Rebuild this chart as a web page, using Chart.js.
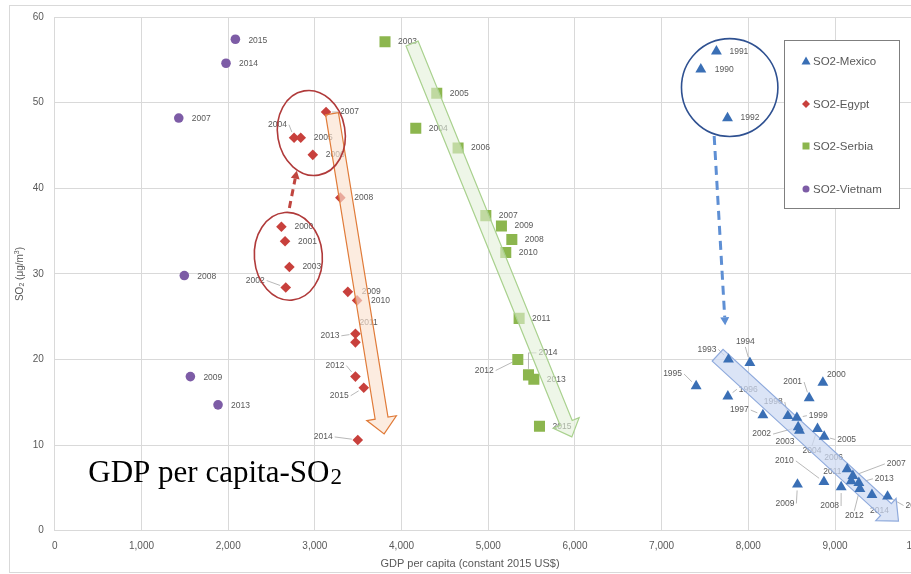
<!DOCTYPE html>
<html>
<head>
<meta charset="utf-8">
<script src="https://cdn.jsdelivr.net/npm/chart.js@4.4.1/dist/chart.umd.min.js"></script>
<style>
  html, body { margin: 0; padding: 0; background: #ffffff; overflow: hidden; }
  #wrap { width: 947px; height: 574px; }
</style>
</head>
<body>
<div id="wrap"><canvas id="c" width="947" height="574"></canvas></div>
<script>
// ---- SO2 concentration vs GDP per capita, by country and year ----
const mexicoYears = [1990,1991,1992,1993,1994,1995,1996,1997,1998,1999,2000,2001,2002,2003,2004,2005,2006,2007,2008,2009,2010,2011,2012,2013,2014,2015];
const mexicoGdp   = [7452,7632,7760,7771,8018,7398,7764,8168,8456,8560,8860,8702,8575,8590,8798,8875,9140,9206,9071,8567,8872,9187,9287,9275,9426,9606];
const mexicoSo2   = [53.9,56.0,48.2,20.0,19.6,16.9,15.7,13.5,13.4,13.2,17.3,15.5,12.1,11.7,11.9,11.0,7.2,6.4,5.1,5.4,5.7,5.8,4.9,5.6,4.2,4.0];

const egyptYears = [2000,2001,2002,2003,2004,2005,2006,2007,2008,2009,2010,2011,2012,2013,2014,2015];
const egyptGdp   = [2614,2656,2664,2706,2760,2837,2976,3129,3294,3380,3487,3468,3468,3468,3495,3564];
const egyptSo2   = [35.5,33.8,28.4,30.8,45.9,45.9,43.9,48.9,38.9,27.9,26.9,22.0,18.0,23.0,10.6,16.7];

const serbiaYears = [2003,2004,2005,2006,2007,2008,2009,2010,2011,2012,2013,2014,2015];
const serbiaGdp   = [3809,4164,4406,4652,4972,5272,5152,5202,5356,5341,5526,5464,5591];
const serbiaSo2   = [57.1,47.0,51.1,44.7,36.8,34.0,35.6,32.5,24.8,20.0,17.7,18.2,12.2];

const vietnamYears = [2007,2008,2009,2013,2014,2015];
const vietnamGdp   = [1430,1494,1564,1883,1975,2083];
const vietnamSo2   = [48.2,29.8,18.0,14.7,54.6,57.4];

const seriesNames = ['SO2-Mexico','SO2-Egypt','SO2-Serbia','SO2-Vietnam'];
const xTicks = [0,1000,2000,3000,4000,5000,6000,7000,8000,9000,10000];
const yTicks = [0,10,20,30,40,50,60];

// year-label placement: [dx, dy, leader line] in pixels from the marker
const mexicoLabelPos = [[14,0],[13,0],[13,0],[-31,-10,1],[-14,-21,1],[-33,-12,1],[11,-7,1],[-33,-5,1],[-24,-14,1],[12,-2,1],
  [4,-8],[-26,-16,1],[-46,7,1],[-24,11],[-15,22,1],[13,3,1],[-23,-11],[34,-12,1],[-21,19,1],[-22,19,1],[-49,-21,1],[-28,-9],[-15,27,1],[16,-4,1],[-2,16],[18,9,1]];
const egyptLabelPos = [[13,0],[13,0],[-40,-7,1],[13,0],[-26,-13,1],[13,0],[13,0],[14,0,1],[14,0],[14,0],[14,0],[4,-20],[-30,-11,1],[-35,2,1],[-44,-3,1],[-34,8,1]];
const serbiaLabelPos = [[13,0],[13,0],[13,0],[13,0],[13,0],[13,0],[13,0],[13,0],[13,0],[-43,11,1],[13,0],[10,-22,2],[13,0]];
const vietnamLabelPos = [[13,1],[13,1],[13,1],[13,1],[13,0],[13,1]];

// trend arrows (data coordinates): from, to; "under" ones sit beneath the markers
const trendArrows = [
  { from: [3198, 48.7], to: [3799, 11.3], shaft: 13, head: 30, headLen: 16, fill: 'rgba(251,226,208,0.65)', stroke: '#E07B39', under: false },
  { from: [4121, 56.9], to: [5964, 10.96], shaft: 13, head: 28, headLen: 15, fill: 'rgba(226,240,217,0.6)', stroke: '#A9D18E', under: false },
  { from: [7646, 20.5], to: [9732, 1.13], shaft: 16, head: 30, headLen: 17, fill: 'rgba(205,218,243,0.72)', stroke: '#8FAADC', under: true }
];
// grouping ellipses (data coordinates): centre, radii
const groupEllipses = [
  { c: [2959, 46.45], r: [389, 4.99], rot: -0.17, color: '#B03A3A' },
  { c: [2694, 32.05], r: [392, 5.13], rot: -0.08, color: '#B03A3A' },
  { c: [7785, 51.76], r: [556, 5.71], rot: 0, color: '#2F5191' }
];
// dashed jump arrows (data coordinates)
const jumpArrows = [
  { from: [2706, 37.7], to: [2791, 42.05], color: '#C0453F', dash: [7, 5] },
  { from: [7606, 46.1], to: [7733, 24.0], color: '#5E8FD4', dash: [9, 6] }
];

const colors = ['#3A6FB5', '#C8403C', '#8CB64E', '#7D5CA6'];
const LABEL_FONT = "8.5px 'Liberation Sans', Arial, sans-serif";
const labelSets = [
  { years: mexicoYears, pos: mexicoLabelPos },
  { years: egyptYears, pos: egyptLabelPos },
  { years: serbiaYears, pos: serbiaLabelPos },
  { years: vietnamYears, pos: vietnamLabelPos }
];

function toPoints(xs, ys) { return xs.map((x, i) => ({ x: x, y: ys[i] })); }

function drawArrow(ctx, a, px, py) {
  const x0 = px(a.from[0]), y0 = py(a.from[1]);
  const x1 = px(a.to[0]), y1 = py(a.to[1]);
  const L = Math.hypot(x1 - x0, y1 - y0);
  const ux = (x1 - x0) / L, uy = (y1 - y0) / L;
  const nx = -uy, ny = ux;
  const bx = x1 - ux * a.headLen, by = y1 - uy * a.headLen;
  const s = a.shaft / 2, h = a.head / 2;
  ctx.save();
  ctx.beginPath();
  ctx.moveTo(x0 + nx * s, y0 + ny * s);
  ctx.lineTo(bx + nx * s, by + ny * s);
  ctx.lineTo(bx + nx * h, by + ny * h);
  ctx.lineTo(x1, y1);
  ctx.lineTo(bx - nx * h, by - ny * h);
  ctx.lineTo(bx - nx * s, by - ny * s);
  ctx.lineTo(x0 - nx * s, y0 - ny * s);
  ctx.closePath();
  ctx.fillStyle = a.fill;
  ctx.fill();
  ctx.strokeStyle = a.stroke;
  ctx.lineWidth = 1.2;
  ctx.stroke();
  ctx.restore();
}

const overlay = {
  id: 'overlay',
  beforeDraw(chart) {
    const ctx = chart.ctx;
    ctx.save();
    ctx.strokeStyle = '#d9d9d9';
    ctx.lineWidth = 1;
    ctx.strokeRect(9.5, 5.5, 1000, 567);
    ctx.restore();
  },
  beforeDatasetsDraw(chart) {
    const ctx = chart.ctx;
    const xs = chart.scales.x, ys = chart.scales.y;
    const px = v => xs.getPixelForValue(v);
    const py = v => ys.getPixelForValue(v);

    // year labels with leader lines
    ctx.save();
    ctx.font = LABEL_FONT;
    ctx.textBaseline = 'middle';
    ctx.textAlign = 'left';
    labelSets.forEach((set, di) => {
      const meta = chart.getDatasetMeta(di);
      meta.data.forEach((el, i) => {
        const p = set.pos[i];
        const txt = String(set.years[i]);
        const w = ctx.measureText(txt).width;
        const lx = el.x + p[0], ly = el.y + p[1];
        if (p[2]) {
          let ex, ey;
          ctx.strokeStyle = '#a6a6a6'; ctx.lineWidth = 0.8;
          if (p[2] === 2) {
            ctx.beginPath();
            ctx.moveTo(el.x, el.y - 6); ctx.lineTo(el.x, ly); ctx.lineTo(lx - 2, ly);
            ctx.stroke();
          } else {
            if (lx + w < el.x - 2) { ex = lx + w + 2; ey = ly; }
            else if (lx > el.x + 2) { ex = lx - 2; ey = ly; }
            else { ex = lx + w / 2; ey = ly < el.y ? ly + 5 : ly - 5; }
            const dx = ex - el.x, dy = ey - el.y, d = Math.hypot(dx, dy);
            if (d > 9) {
              ctx.beginPath();
              ctx.moveTo(el.x + dx / d * 6, el.y + dy / d * 6);
              ctx.lineTo(ex, ey);
              ctx.stroke();
            }
          }
        }
        ctx.fillStyle = '#595959';
        ctx.fillText(txt, lx, ly);
      });
    });
    ctx.restore();

    trendArrows.filter(a => a.under).forEach(a => drawArrow(ctx, a, px, py));
  },
  afterDatasetsDraw(chart) {
    const ctx = chart.ctx;
    const xs = chart.scales.x, ys = chart.scales.y;
    const px = v => xs.getPixelForValue(v);
    const py = v => ys.getPixelForValue(v);

    trendArrows.filter(a => !a.under).forEach(a => drawArrow(ctx, a, px, py));

    // ellipses
    groupEllipses.forEach(e => {
      const cx = px(e.c[0]), cy = py(e.c[1]);
      const rx = Math.abs(px(e.c[0] + e.r[0]) - cx);
      const ry = Math.abs(py(e.c[1] + e.r[1]) - cy);
      ctx.save();
      ctx.beginPath();
      ctx.ellipse(cx, cy, rx, ry, e.rot, 0, Math.PI * 2);
      ctx.strokeStyle = e.color;
      ctx.lineWidth = 1.6;
      ctx.stroke();
      ctx.restore();
    });

    // dashed jump arrows
    jumpArrows.forEach(a => {
      const x0 = px(a.from[0]), y0 = py(a.from[1]);
      const x1 = px(a.to[0]), y1 = py(a.to[1]);
      const L = Math.hypot(x1 - x0, y1 - y0);
      const ux = (x1 - x0) / L, uy = (y1 - y0) / L;
      const nx = -uy, ny = ux;
      const hl = 8, hw = 4.5;
      ctx.save();
      ctx.strokeStyle = a.color;
      ctx.lineWidth = 3;
      ctx.setLineDash(a.dash);
      ctx.beginPath();
      ctx.moveTo(x0, y0);
      ctx.lineTo(x1 - ux * hl, y1 - uy * hl);
      ctx.stroke();
      ctx.setLineDash([]);
      ctx.fillStyle = a.color;
      ctx.beginPath();
      ctx.moveTo(x1, y1);
      ctx.lineTo(x1 - ux * hl + nx * hw, y1 - uy * hl + ny * hw);
      ctx.lineTo(x1 - ux * hl - nx * hw, y1 - uy * hl - ny * hw);
      ctx.closePath();
      ctx.fill();
      ctx.restore();
    });

    // caption inside the plot
    ctx.save();
    ctx.fillStyle = '#000000';
    ctx.textBaseline = 'alphabetic';
    ctx.textAlign = 'left';
    ctx.font = "31px 'Liberation Serif', 'Times New Roman', serif";
    const capX = px(387), capY = py(5.71);
    const main = 'GDP per capita-SO';
    ctx.fillText(main, capX, capY);
    const mw = ctx.measureText(main).width;
    ctx.font = "23px 'Liberation Serif', 'Times New Roman', serif";
    ctx.fillText('2', capX + mw + 1, capY + 2);
    ctx.restore();

    // legend box
    ctx.save();
    ctx.strokeStyle = '#7f7f7f';
    ctx.lineWidth = 1;
    ctx.fillStyle = '#ffffff';
    ctx.fillRect(784.5, 40.5, 115, 168);
    ctx.strokeRect(784.5, 40.5, 115, 168);
    const rows = [61, 104, 146, 189];
    ctx.font = "11.5px 'Liberation Sans', Arial, sans-serif";
    ctx.textBaseline = 'middle';
    rows.forEach((ry, i) => {
      const mx = 806, my = ry;
      ctx.fillStyle = colors[i];
      ctx.beginPath();
      if (i === 0) { ctx.moveTo(mx, my - 4.5); ctx.lineTo(mx + 4.5, my + 3.5); ctx.lineTo(mx - 4.5, my + 3.5); ctx.closePath(); }
      else if (i === 1) { ctx.moveTo(mx, my - 4); ctx.lineTo(mx + 4, my); ctx.lineTo(mx, my + 4); ctx.lineTo(mx - 4, my); ctx.closePath(); }
      else if (i === 2) { ctx.rect(mx - 3.5, my - 3.5, 7, 7); }
      else { ctx.arc(mx, my, 3.5, 0, Math.PI * 2); }
      ctx.fill();
      ctx.fillStyle = '#595959';
      ctx.fillText(seriesNames[i], 813, ry + 0.5);
    });
    ctx.restore();

    // axis titles
    ctx.save();
    ctx.fillStyle = '#595959';
    ctx.font = "11px 'Liberation Sans', Arial, sans-serif";
    ctx.textAlign = 'center';
    ctx.textBaseline = 'middle';
    ctx.fillText('GDP per capita (constant 2015 US$)', 470, 564);
    ctx.translate(20, 274);
    ctx.rotate(-Math.PI / 2);
    const parts = [['SO', 10, 0], ['2', 7, 2.5], [' (μg/m', 10, 0], ['3', 7, -3], [')', 10, 0]];
    let tw = 0;
    parts.forEach(p => { ctx.font = p[1] + "px 'Liberation Sans', Arial, sans-serif"; tw += ctx.measureText(p[0]).width; });
    let cx = -tw / 2;
    ctx.textAlign = 'left';
    parts.forEach(p => {
      ctx.font = p[1] + "px 'Liberation Sans', Arial, sans-serif";
      ctx.fillText(p[0], cx, p[2]);
      cx += ctx.measureText(p[0]).width;
    });
    ctx.restore();
  }
};

new Chart(document.getElementById('c'), {
  type: 'scatter',
  data: {
    datasets: [
      { label: seriesNames[0], data: toPoints(mexicoGdp, mexicoSo2), pointStyle: 'triangle', pointRadius: 6.3, backgroundColor: colors[0], borderWidth: 0 },
      { label: seriesNames[1], data: toPoints(egyptGdp, egyptSo2), pointStyle: 'rectRot', pointRadius: 5.3, backgroundColor: colors[1], borderWidth: 0 },
      { label: seriesNames[2], data: toPoints(serbiaGdp, serbiaSo2), pointStyle: 'rect', pointRadius: 7.8, backgroundColor: colors[2], borderWidth: 0 },
      { label: seriesNames[3], data: toPoints(vietnamGdp, vietnamSo2), pointStyle: 'circle', pointRadius: 4.8, backgroundColor: colors[3], borderWidth: 0 }
    ]
  },
  options: {
    responsive: false,
    animation: false,
    layout: { padding: { top: 16, right: 0, left: 0, bottom: 0 } },
    plugins: { legend: { display: false }, tooltip: { enabled: false } },
    scales: {
      x: {
        type: 'linear', min: 0, max: 10000,
        afterBuildTicks: s => { s.ticks = xTicks.map(v => ({ value: v })); },
        afterFit: s => { s.height = 43.3; },
        ticks: { color: '#595959', font: { size: 10, family: "'Liberation Sans', Arial, sans-serif" }, padding: 10,
          callback: v => v.toLocaleString('en-US') },
        grid: { color: '#d9d9d9', drawTicks: false },
        border: { color: '#d9d9d9' }
      },
      y: {
        type: 'linear', min: 0, max: 60,
        afterBuildTicks: s => { s.ticks = yTicks.map(v => ({ value: v })); },
        afterFit: s => { s.width = 54.8; },
        ticks: { color: '#595959', font: { size: 10, family: "'Liberation Sans', Arial, sans-serif" }, padding: 11 },
        grid: { color: '#d9d9d9', drawTicks: false },
        border: { color: '#d9d9d9' }
      }
    }
  },
  plugins: [overlay]
});
</script>
</body>
</html>
